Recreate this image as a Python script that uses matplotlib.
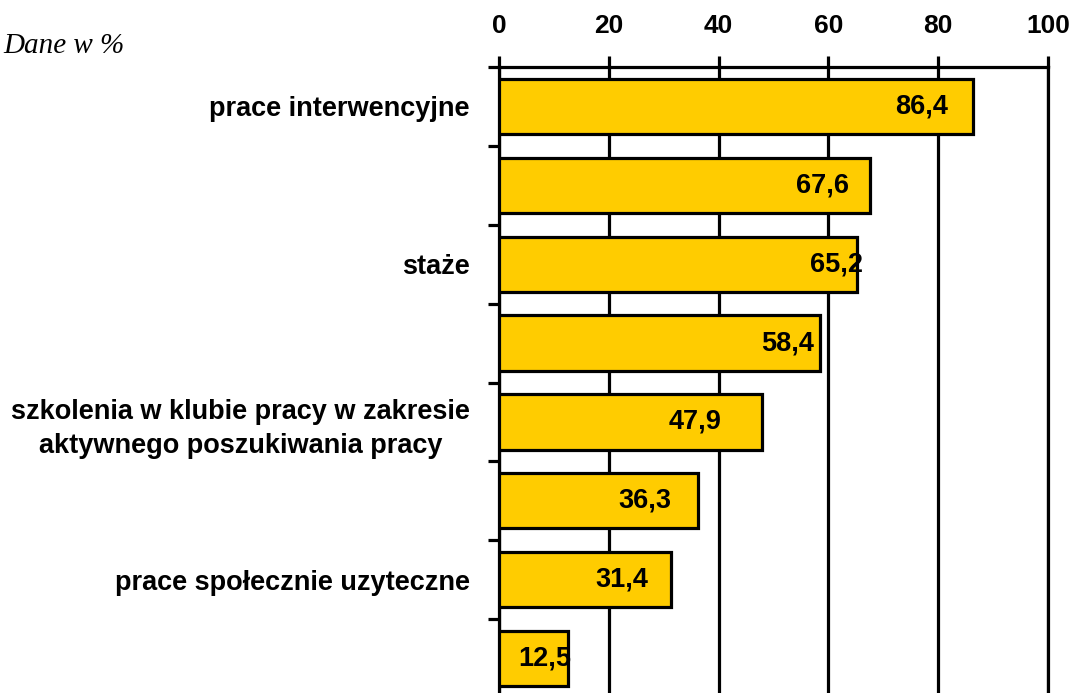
import matplotlib
matplotlib.use("Agg")
import matplotlib.pyplot as plt
import numpy as np

# ---- data ----
categories = [
    "prace interwencyjne",
    "",
    "staże",
    "",
    "szkolenia w klubie pracy w zakresie\naktywnego poszukiwania pracy",
    "",
    "prace społecznie uzyteczne",
    "",
]
values = [86.4, 67.6, 65.2, 58.4, 47.9, 36.3, 31.4, 12.5]
value_labels = ["86,4", "67,6", "65,2", "58,4", "47,9", "36,3", "31,4", "12,5"]
x_ticks = [0, 20, 40, 60, 80, 100]
unit_text = "Dane w %"

# label placement (offset back from bar end, data units) - layout only
label_offsets = [9.4, 8.7, 3.7, 5.8, 12.2, 9.8, 9.0, 4.2]

W, H = 1076, 693
fig = plt.figure(figsize=(W / 100, H / 100), dpi=100)
left, right, top, bottom = 499, 1048, 67, 698
ax = fig.add_axes([left / W, 1 - bottom / H, (right - left) / W, (bottom - top) / H])

plt.rcParams["font.family"] = ["Liberation Sans", "DejaVu Sans"]
LW = 2.3
gold = "#FFCC00"

y = np.arange(len(values))
ax.barh(y, values, height=0.7, color=gold, edgecolor="black", linewidth=LW, zorder=3)

for yi, v, lab, off in zip(y, values, value_labels, label_offsets):
    ax.text(v - off, yi, lab, ha="center", va="center", fontsize=19.5,
            fontweight="bold", family="Liberation Sans", zorder=4)

ax.set_xlim(0, 100)
ax.set_ylim(len(values) - 0.5, -0.5)

ax.xaxis.tick_top()
ax.set_xticks(x_ticks)
ax.set_xticklabels([str(t) for t in x_ticks], fontsize=19, fontweight="bold",
                   family="Liberation Sans")
ax.tick_params(axis="x", direction="out", length=8, width=LW, pad=13)

ax.set_yticks(y)
ax.set_yticklabels(categories, fontsize=19.5, fontweight="bold", family="Liberation Sans",
                   multialignment="center", linespacing=1.4)
ax.tick_params(axis="y", which="major", length=0, pad=21)
ax.set_yticks(np.arange(len(values) + 1) - 0.5, minor=True)
ax.tick_params(axis="y", which="minor", direction="out", length=8, width=LW)

ax.grid(axis="x", color="black", linewidth=LW, zorder=1)
ax.grid(axis="y", visible=False)
for side in ["top", "left", "right"]:
    ax.spines[side].set_linewidth(LW)
ax.spines["bottom"].set_visible(False)

fig.text(3 / W, 1 - 53 / H, unit_text, ha="left", va="baseline", fontsize=21,
         style="italic", family="Liberation Serif")

fig.savefig("out.png", dpi=100)
